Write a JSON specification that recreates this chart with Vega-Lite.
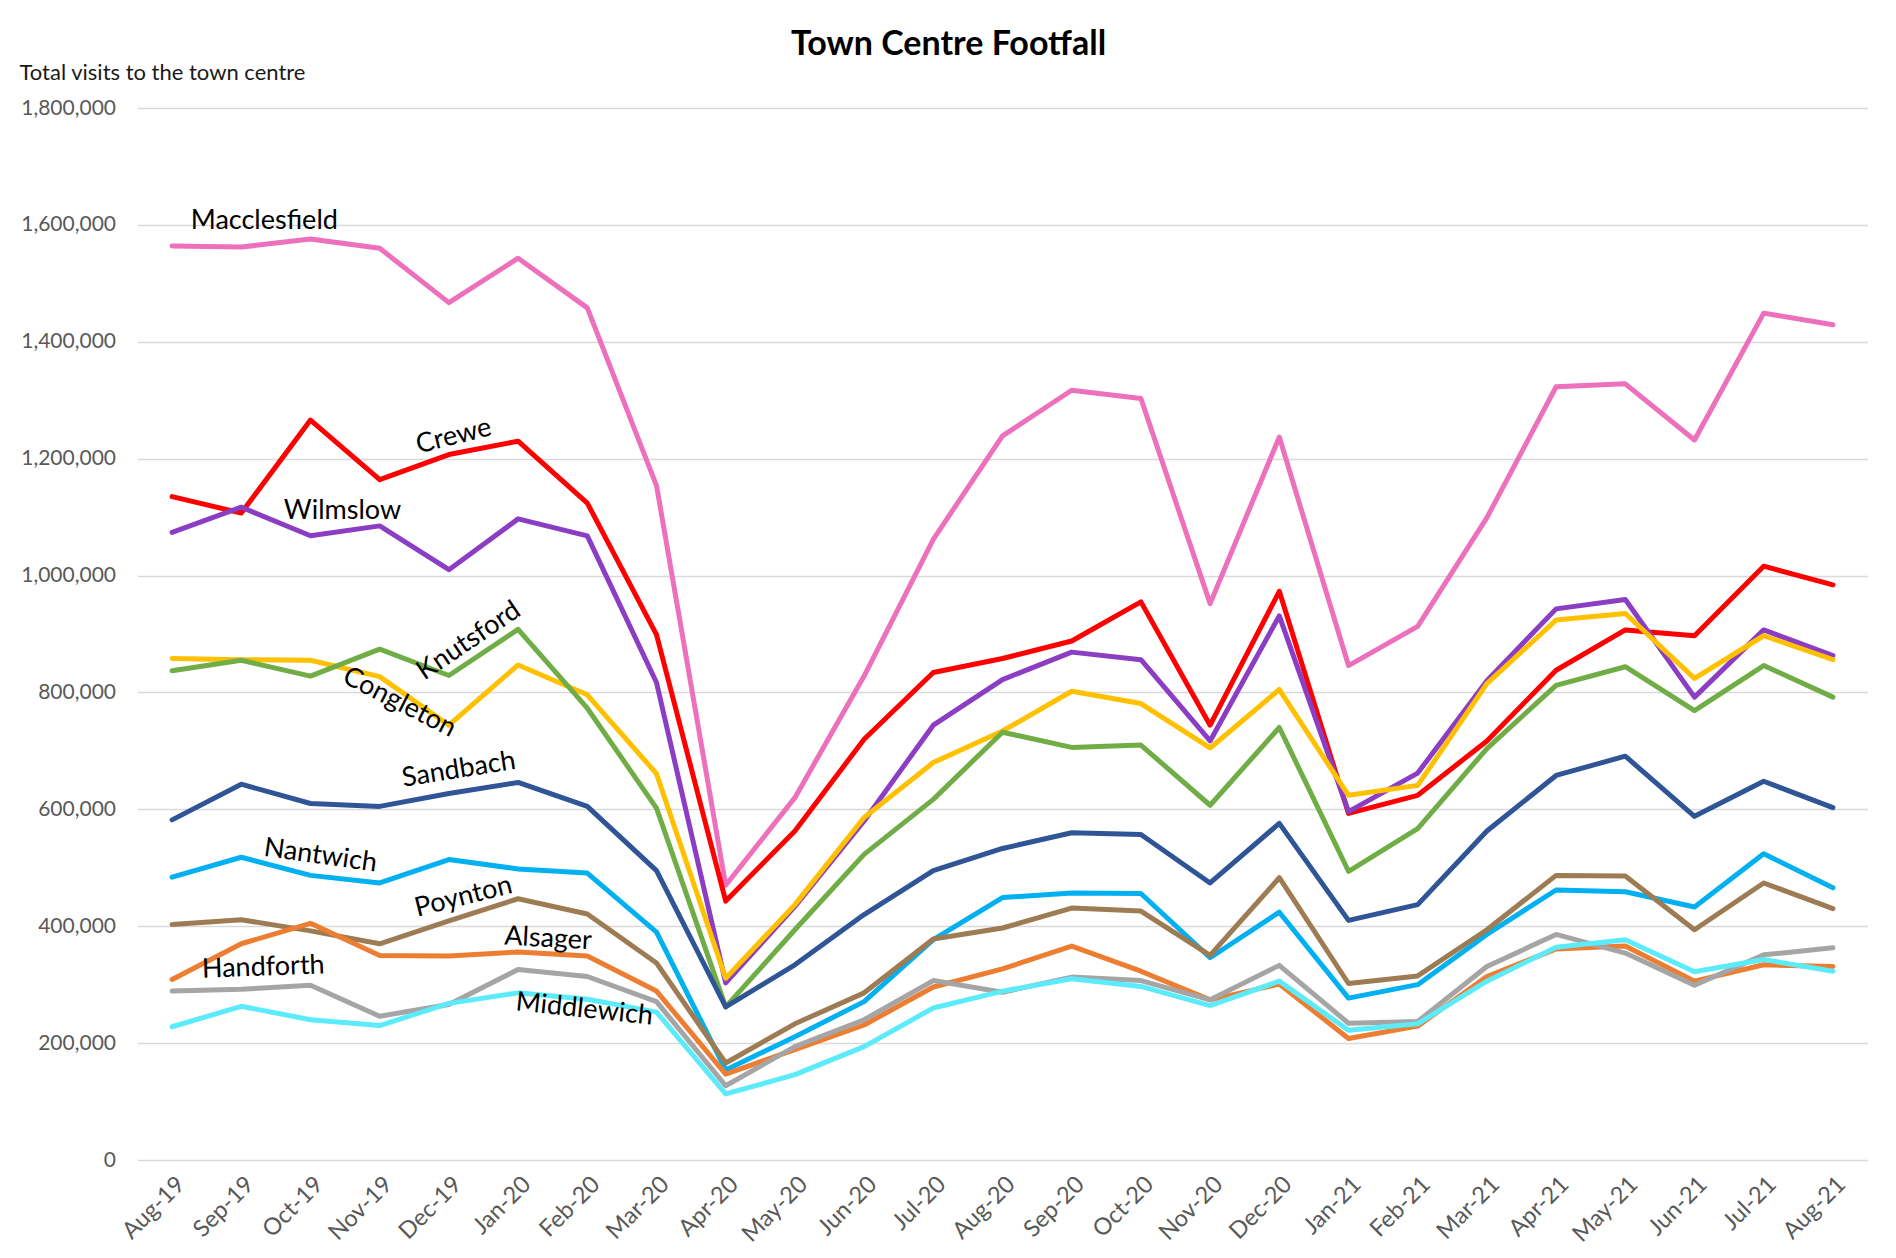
{
  "$schema": "https://vega.github.io/schema/vega-lite/v6.json",
  "width": 1730,
  "height": 1052,
  "autosize": {"type": "none"},
  "padding": {"left": 137.5, "top": 108, "right": 28.5, "bottom": 98},
  "background": "white",
  "config": {"font": "Lato", "view": {"stroke": null}},
  "title": {"text": "Town Centre Footfall", "font": "Lato", "fontSize": 34, "fontWeight": "bold", "color": "#000000", "anchor": "middle", "dx": -54, "offset": 4, "dy": 5},
  "datasets": {
    "footfall": [
      {"month":"Aug-19","town":"Macclesfield","visits":1564000},{"month":"Sep-19","town":"Macclesfield","visits":1562000},{"month":"Oct-19","town":"Macclesfield","visits":1576000},{"month":"Nov-19","town":"Macclesfield","visits":1560000},{"month":"Dec-19","town":"Macclesfield","visits":1467000},{"month":"Jan-20","town":"Macclesfield","visits":1543000},{"month":"Feb-20","town":"Macclesfield","visits":1458000},{"month":"Mar-20","town":"Macclesfield","visits":1154000},{"month":"Apr-20","town":"Macclesfield","visits":470000},{"month":"May-20","town":"Macclesfield","visits":620000},{"month":"Jun-20","town":"Macclesfield","visits":828000},{"month":"Jul-20","town":"Macclesfield","visits":1062000},{"month":"Aug-20","town":"Macclesfield","visits":1239000},{"month":"Sep-20","town":"Macclesfield","visits":1317000},{"month":"Oct-20","town":"Macclesfield","visits":1303000},{"month":"Nov-20","town":"Macclesfield","visits":952000},{"month":"Dec-20","town":"Macclesfield","visits":1237000},{"month":"Jan-21","town":"Macclesfield","visits":846000},{"month":"Feb-21","town":"Macclesfield","visits":913000},{"month":"Mar-21","town":"Macclesfield","visits":1099000},{"month":"Apr-21","town":"Macclesfield","visits":1323000},{"month":"May-21","town":"Macclesfield","visits":1328000},{"month":"Jun-21","town":"Macclesfield","visits":1232000},{"month":"Jul-21","town":"Macclesfield","visits":1449000},{"month":"Aug-21","town":"Macclesfield","visits":1429000},
      {"month":"Aug-19","town":"Crewe","visits":1135000},{"month":"Sep-19","town":"Crewe","visits":1107000},{"month":"Oct-19","town":"Crewe","visits":1266000},{"month":"Nov-19","town":"Crewe","visits":1164000},{"month":"Dec-19","town":"Crewe","visits":1207000},{"month":"Jan-20","town":"Crewe","visits":1230000},{"month":"Feb-20","town":"Crewe","visits":1124000},{"month":"Mar-20","town":"Crewe","visits":899000},{"month":"Apr-20","town":"Crewe","visits":443000},{"month":"May-20","town":"Crewe","visits":563000},{"month":"Jun-20","town":"Crewe","visits":720000},{"month":"Jul-20","town":"Crewe","visits":834000},{"month":"Aug-20","town":"Crewe","visits":858000},{"month":"Sep-20","town":"Crewe","visits":888000},{"month":"Oct-20","town":"Crewe","visits":955000},{"month":"Nov-20","town":"Crewe","visits":744000},{"month":"Dec-20","town":"Crewe","visits":973000},{"month":"Jan-21","town":"Crewe","visits":593000},{"month":"Feb-21","town":"Crewe","visits":624000},{"month":"Mar-21","town":"Crewe","visits":717000},{"month":"Apr-21","town":"Crewe","visits":838000},{"month":"May-21","town":"Crewe","visits":907000},{"month":"Jun-21","town":"Crewe","visits":897000},{"month":"Jul-21","town":"Crewe","visits":1016000},{"month":"Aug-21","town":"Crewe","visits":984000},
      {"month":"Aug-19","town":"Wilmslow","visits":1074000},{"month":"Sep-19","town":"Wilmslow","visits":1117000},{"month":"Oct-19","town":"Wilmslow","visits":1068000},{"month":"Nov-19","town":"Wilmslow","visits":1085000},{"month":"Dec-19","town":"Wilmslow","visits":1010000},{"month":"Jan-20","town":"Wilmslow","visits":1097000},{"month":"Feb-20","town":"Wilmslow","visits":1068000},{"month":"Mar-20","town":"Wilmslow","visits":817000},{"month":"Apr-20","town":"Wilmslow","visits":303000},{"month":"May-20","town":"Wilmslow","visits":434000},{"month":"Jun-20","town":"Wilmslow","visits":580000},{"month":"Jul-20","town":"Wilmslow","visits":744000},{"month":"Aug-20","town":"Wilmslow","visits":822000},{"month":"Sep-20","town":"Wilmslow","visits":869000},{"month":"Oct-20","town":"Wilmslow","visits":856000},{"month":"Nov-20","town":"Wilmslow","visits":717000},{"month":"Dec-20","town":"Wilmslow","visits":931000},{"month":"Jan-21","town":"Wilmslow","visits":596000},{"month":"Feb-21","town":"Wilmslow","visits":662000},{"month":"Mar-21","town":"Wilmslow","visits":820000},{"month":"Apr-21","town":"Wilmslow","visits":943000},{"month":"May-21","town":"Wilmslow","visits":959000},{"month":"Jun-21","town":"Wilmslow","visits":792000},{"month":"Jul-21","town":"Wilmslow","visits":907000},{"month":"Aug-21","town":"Wilmslow","visits":863000},
      {"month":"Aug-19","town":"Congleton","visits":858000},{"month":"Sep-19","town":"Congleton","visits":856000},{"month":"Oct-19","town":"Congleton","visits":855000},{"month":"Nov-19","town":"Congleton","visits":827000},{"month":"Dec-19","town":"Congleton","visits":744000},{"month":"Jan-20","town":"Congleton","visits":847000},{"month":"Feb-20","town":"Congleton","visits":796000},{"month":"Mar-20","town":"Congleton","visits":661000},{"month":"Apr-20","town":"Congleton","visits":311000},{"month":"May-20","town":"Congleton","visits":437000},{"month":"Jun-20","town":"Congleton","visits":586000},{"month":"Jul-20","town":"Congleton","visits":680000},{"month":"Aug-20","town":"Congleton","visits":734000},{"month":"Sep-20","town":"Congleton","visits":802000},{"month":"Oct-20","town":"Congleton","visits":781000},{"month":"Nov-20","town":"Congleton","visits":705000},{"month":"Dec-20","town":"Congleton","visits":805000},{"month":"Jan-21","town":"Congleton","visits":624000},{"month":"Feb-21","town":"Congleton","visits":641000},{"month":"Mar-21","town":"Congleton","visits":815000},{"month":"Apr-21","town":"Congleton","visits":924000},{"month":"May-21","town":"Congleton","visits":935000},{"month":"Jun-21","town":"Congleton","visits":824000},{"month":"Jul-21","town":"Congleton","visits":897000},{"month":"Aug-21","town":"Congleton","visits":856000},
      {"month":"Aug-19","town":"Knutsford","visits":837000},{"month":"Sep-19","town":"Knutsford","visits":855000},{"month":"Oct-19","town":"Knutsford","visits":828000},{"month":"Nov-19","town":"Knutsford","visits":874000},{"month":"Dec-19","town":"Knutsford","visits":829000},{"month":"Jan-20","town":"Knutsford","visits":908000},{"month":"Feb-20","town":"Knutsford","visits":773000},{"month":"Mar-20","town":"Knutsford","visits":602000},{"month":"Apr-20","town":"Knutsford","visits":262000},{"month":"May-20","town":"Knutsford","visits":394000},{"month":"Jun-20","town":"Knutsford","visits":523000},{"month":"Jul-20","town":"Knutsford","visits":617000},{"month":"Aug-20","town":"Knutsford","visits":732000},{"month":"Sep-20","town":"Knutsford","visits":706000},{"month":"Oct-20","town":"Knutsford","visits":710000},{"month":"Nov-20","town":"Knutsford","visits":607000},{"month":"Dec-20","town":"Knutsford","visits":740000},{"month":"Jan-21","town":"Knutsford","visits":494000},{"month":"Feb-21","town":"Knutsford","visits":567000},{"month":"Mar-21","town":"Knutsford","visits":704000},{"month":"Apr-21","town":"Knutsford","visits":812000},{"month":"May-21","town":"Knutsford","visits":844000},{"month":"Jun-21","town":"Knutsford","visits":769000},{"month":"Jul-21","town":"Knutsford","visits":846000},{"month":"Aug-21","town":"Knutsford","visits":792000},
      {"month":"Aug-19","town":"Sandbach","visits":582000},{"month":"Sep-19","town":"Sandbach","visits":643000},{"month":"Oct-19","town":"Sandbach","visits":610000},{"month":"Nov-19","town":"Sandbach","visits":605000},{"month":"Dec-19","town":"Sandbach","visits":627000},{"month":"Jan-20","town":"Sandbach","visits":646000},{"month":"Feb-20","town":"Sandbach","visits":605000},{"month":"Mar-20","town":"Sandbach","visits":495000},{"month":"Apr-20","town":"Sandbach","visits":262000},{"month":"May-20","town":"Sandbach","visits":334000},{"month":"Jun-20","town":"Sandbach","visits":420000},{"month":"Jul-20","town":"Sandbach","visits":495000},{"month":"Aug-20","town":"Sandbach","visits":533000},{"month":"Sep-20","town":"Sandbach","visits":560000},{"month":"Oct-20","town":"Sandbach","visits":557000},{"month":"Nov-20","town":"Sandbach","visits":474000},{"month":"Dec-20","town":"Sandbach","visits":576000},{"month":"Jan-21","town":"Sandbach","visits":410000},{"month":"Feb-21","town":"Sandbach","visits":437000},{"month":"Mar-21","town":"Sandbach","visits":563000},{"month":"Apr-21","town":"Sandbach","visits":658000},{"month":"May-21","town":"Sandbach","visits":691000},{"month":"Jun-21","town":"Sandbach","visits":588000},{"month":"Jul-21","town":"Sandbach","visits":648000},{"month":"Aug-21","town":"Sandbach","visits":603000},
      {"month":"Aug-19","town":"Nantwich","visits":484000},{"month":"Sep-19","town":"Nantwich","visits":518000},{"month":"Oct-19","town":"Nantwich","visits":487000},{"month":"Nov-19","town":"Nantwich","visits":474000},{"month":"Dec-19","town":"Nantwich","visits":514000},{"month":"Jan-20","town":"Nantwich","visits":498000},{"month":"Feb-20","town":"Nantwich","visits":491000},{"month":"Mar-20","town":"Nantwich","visits":390000},{"month":"Apr-20","town":"Nantwich","visits":154000},{"month":"May-20","town":"Nantwich","visits":211000},{"month":"Jun-20","town":"Nantwich","visits":271000},{"month":"Jul-20","town":"Nantwich","visits":377000},{"month":"Aug-20","town":"Nantwich","visits":449000},{"month":"Sep-20","town":"Nantwich","visits":457000},{"month":"Oct-20","town":"Nantwich","visits":456000},{"month":"Nov-20","town":"Nantwich","visits":346000},{"month":"Dec-20","town":"Nantwich","visits":424000},{"month":"Jan-21","town":"Nantwich","visits":277000},{"month":"Feb-21","town":"Nantwich","visits":300000},{"month":"Mar-21","town":"Nantwich","visits":386000},{"month":"Apr-21","town":"Nantwich","visits":462000},{"month":"May-21","town":"Nantwich","visits":459000},{"month":"Jun-21","town":"Nantwich","visits":433000},{"month":"Jul-21","town":"Nantwich","visits":524000},{"month":"Aug-21","town":"Nantwich","visits":466000},
      {"month":"Aug-19","town":"Poynton","visits":403000},{"month":"Sep-19","town":"Poynton","visits":411000},{"month":"Oct-19","town":"Poynton","visits":392000},{"month":"Nov-19","town":"Poynton","visits":370000},{"month":"Dec-19","town":"Poynton","visits":409000},{"month":"Jan-20","town":"Poynton","visits":447000},{"month":"Feb-20","town":"Poynton","visits":421000},{"month":"Mar-20","town":"Poynton","visits":337000},{"month":"Apr-20","town":"Poynton","visits":166000},{"month":"May-20","town":"Poynton","visits":233000},{"month":"Jun-20","town":"Poynton","visits":286000},{"month":"Jul-20","town":"Poynton","visits":378000},{"month":"Aug-20","town":"Poynton","visits":397000},{"month":"Sep-20","town":"Poynton","visits":431000},{"month":"Oct-20","town":"Poynton","visits":426000},{"month":"Nov-20","town":"Poynton","visits":350000},{"month":"Dec-20","town":"Poynton","visits":483000},{"month":"Jan-21","town":"Poynton","visits":302000},{"month":"Feb-21","town":"Poynton","visits":315000},{"month":"Mar-21","town":"Poynton","visits":394000},{"month":"Apr-21","town":"Poynton","visits":487000},{"month":"May-21","town":"Poynton","visits":486000},{"month":"Jun-21","town":"Poynton","visits":394000},{"month":"Jul-21","town":"Poynton","visits":474000},{"month":"Aug-21","town":"Poynton","visits":430000},
      {"month":"Aug-19","town":"Alsager","visits":309000},{"month":"Sep-19","town":"Alsager","visits":370000},{"month":"Oct-19","town":"Alsager","visits":405000},{"month":"Nov-19","town":"Alsager","visits":350000},{"month":"Dec-19","town":"Alsager","visits":349000},{"month":"Jan-20","town":"Alsager","visits":356000},{"month":"Feb-20","town":"Alsager","visits":349000},{"month":"Mar-20","town":"Alsager","visits":289000},{"month":"Apr-20","town":"Alsager","visits":147000},{"month":"May-20","town":"Alsager","visits":189000},{"month":"Jun-20","town":"Alsager","visits":231000},{"month":"Jul-20","town":"Alsager","visits":296000},{"month":"Aug-20","town":"Alsager","visits":327000},{"month":"Sep-20","town":"Alsager","visits":366000},{"month":"Oct-20","town":"Alsager","visits":323000},{"month":"Nov-20","town":"Alsager","visits":274000},{"month":"Dec-20","town":"Alsager","visits":301000},{"month":"Jan-21","town":"Alsager","visits":208000},{"month":"Feb-21","town":"Alsager","visits":229000},{"month":"Mar-21","town":"Alsager","visits":314000},{"month":"Apr-21","town":"Alsager","visits":361000},{"month":"May-21","town":"Alsager","visits":366000},{"month":"Jun-21","town":"Alsager","visits":306000},{"month":"Jul-21","town":"Alsager","visits":334000},{"month":"Aug-21","town":"Alsager","visits":331000},
      {"month":"Aug-19","town":"Handforth","visits":289000},{"month":"Sep-19","town":"Handforth","visits":292000},{"month":"Oct-19","town":"Handforth","visits":299000},{"month":"Nov-19","town":"Handforth","visits":246000},{"month":"Dec-19","town":"Handforth","visits":266000},{"month":"Jan-20","town":"Handforth","visits":326000},{"month":"Feb-20","town":"Handforth","visits":314000},{"month":"Mar-20","town":"Handforth","visits":271000},{"month":"Apr-20","town":"Handforth","visits":127000},{"month":"May-20","town":"Handforth","visits":194000},{"month":"Jun-20","town":"Handforth","visits":240000},{"month":"Jul-20","town":"Handforth","visits":307000},{"month":"Aug-20","town":"Handforth","visits":287000},{"month":"Sep-20","town":"Handforth","visits":313000},{"month":"Oct-20","town":"Handforth","visits":307000},{"month":"Nov-20","town":"Handforth","visits":274000},{"month":"Dec-20","town":"Handforth","visits":333000},{"month":"Jan-21","town":"Handforth","visits":234000},{"month":"Feb-21","town":"Handforth","visits":237000},{"month":"Mar-21","town":"Handforth","visits":331000},{"month":"Apr-21","town":"Handforth","visits":386000},{"month":"May-21","town":"Handforth","visits":354000},{"month":"Jun-21","town":"Handforth","visits":299000},{"month":"Jul-21","town":"Handforth","visits":351000},{"month":"Aug-21","town":"Handforth","visits":363000},
      {"month":"Aug-19","town":"Middlewich","visits":228000},{"month":"Sep-19","town":"Middlewich","visits":263000},{"month":"Oct-19","town":"Middlewich","visits":240000},{"month":"Nov-19","town":"Middlewich","visits":230000},{"month":"Dec-19","town":"Middlewich","visits":268000},{"month":"Jan-20","town":"Middlewich","visits":286000},{"month":"Feb-20","town":"Middlewich","visits":275000},{"month":"Mar-20","town":"Middlewich","visits":253000},{"month":"Apr-20","town":"Middlewich","visits":113000},{"month":"May-20","town":"Middlewich","visits":146000},{"month":"Jun-20","town":"Middlewich","visits":194000},{"month":"Jul-20","town":"Middlewich","visits":260000},{"month":"Aug-20","town":"Middlewich","visits":289000},{"month":"Sep-20","town":"Middlewich","visits":310000},{"month":"Oct-20","town":"Middlewich","visits":297000},{"month":"Nov-20","town":"Middlewich","visits":264000},{"month":"Dec-20","town":"Middlewich","visits":306000},{"month":"Jan-21","town":"Middlewich","visits":222000},{"month":"Feb-21","town":"Middlewich","visits":233000},{"month":"Mar-21","town":"Middlewich","visits":306000},{"month":"Apr-21","town":"Middlewich","visits":364000},{"month":"May-21","town":"Middlewich","visits":377000},{"month":"Jun-21","town":"Middlewich","visits":322000},{"month":"Jul-21","town":"Middlewich","visits":343000},{"month":"Aug-21","town":"Middlewich","visits":323000}
    ],
    "labels": [
      {"town":"Macclesfield","month":"Sep-19","visits":1607000},
      {"town":"Crewe","month":"Dec-19","visits":1236000},
      {"town":"Wilmslow","month":"Oct-19","visits":1110000},
      {"town":"Knutsford","month":"Dec-19","visits":865000},
      {"town":"Congleton","month":"Nov-19","visits":800000},
      {"town":"Sandbach","month":"Dec-19","visits":665000},
      {"town":"Nantwich","month":"Oct-19","visits":523000},
      {"town":"Poynton","month":"Dec-19","visits":444000},
      {"town":"Alsager","month":"Jan-20","visits":381000},
      {"town":"Middlewich","month":"Feb-20","visits":257000},
      {"town":"Handforth","month":"Sep-19","visits":328000}
    ]
  },
  "encoding": {
    "x": {
      "field": "month", "type": "ordinal",
      "scale": {"type": "point", "padding": 0.5, "domain": ["Aug-19","Sep-19","Oct-19","Nov-19","Dec-19","Jan-20","Feb-20","Mar-20","Apr-20","May-20","Jun-20","Jul-20","Aug-20","Sep-20","Oct-20","Nov-20","Dec-20","Jan-21","Feb-21","Mar-21","Apr-21","May-21","Jun-21","Jul-21","Aug-21"]},
      "axis": {"title": null, "labelAngle": -45, "labelFontSize": 23.5, "labelColor": "#595959", "labelFont": "Lato", "ticks": false, "domain": false, "grid": false, "labelPadding": 12}
    },
    "y": {
      "field": "visits", "type": "quantitative",
      "scale": {"domain": [0, 1800000], "nice": false, "zero": true},
      "axis": {
        "values": [0,200000,400000,600000,800000,1000000,1200000,1400000,1600000,1800000],
        "format": ",.0f", "labelFontSize": 21, "labelColor": "#595959", "labelFont": "Lato", "labelPadding": 22,
        "ticks": false, "domain": false, "grid": true, "gridColor": "#D9D9D9", "gridWidth": 1.6,
        "title": "Total visits to the town centre", "titleAngle": 0, "titleAlign": "left", "titleBaseline": "alphabetic",
        "titleX": -118.5, "titleY": -29, "titleFontSize": 22, "titleFontWeight": "normal", "titleColor": "#1a1a1a", "titleFont": "Lato"
      }
    }
  },
  "layer": [
    {
      "data": {"name": "footfall"},
      "mark": {"type": "line", "strokeWidth": 5, "strokeJoin": "round", "strokeCap": "round"},
      "encoding": {
        "color": {"field": "town", "type": "nominal", "legend": null,
          "scale": {"domain": ["Alsager","Congleton","Crewe","Handforth","Knutsford","Macclesfield","Middlewich","Nantwich","Poynton","Sandbach","Wilmslow"],
                    "range": ["#ED7D31","#FFC000","#FF0000","#A5A5A5","#70AD47","#EC70BC","#5BEBFB","#00B0F0","#9E7C53","#2F5597","#8B3EC4"]}}
      }
    },
    {"data": {"name": "labels"}, "transform": [{"filter": {"field": "town", "equal": "Macclesfield"}}], "mark": {"type": "text", "fontSize": 27, "font": "Lato", "color": "#000000", "align": "center", "baseline": "middle", "angle": 0, "dx": 23}, "encoding": {"text": {"field": "town"}}},
    {"data": {"name": "labels"}, "transform": [{"filter": {"field": "town", "equal": "Crewe"}}], "mark": {"type": "text", "fontSize": 27, "font": "Lato", "color": "#000000", "align": "center", "baseline": "middle", "angle": -14, "dx": 5}, "encoding": {"text": {"field": "town"}}},
    {"data": {"name": "labels"}, "transform": [{"filter": {"field": "town", "equal": "Wilmslow"}}], "mark": {"type": "text", "fontSize": 27, "font": "Lato", "color": "#000000", "align": "center", "baseline": "middle", "angle": 0, "dx": 32}, "encoding": {"text": {"field": "town"}}},
    {"data": {"name": "labels"}, "transform": [{"filter": {"field": "town", "equal": "Knutsford"}}], "mark": {"type": "text", "fontSize": 27, "font": "Lato", "color": "#000000", "align": "center", "baseline": "middle", "angle": -34, "dx": 24}, "encoding": {"text": {"field": "town"}}},
    {"data": {"name": "labels"}, "transform": [{"filter": {"field": "town", "equal": "Congleton"}}], "mark": {"type": "text", "fontSize": 27, "font": "Lato", "color": "#000000", "align": "center", "baseline": "middle", "angle": 27, "dx": 22}, "encoding": {"text": {"field": "town"}}},
    {"data": {"name": "labels"}, "transform": [{"filter": {"field": "town", "equal": "Sandbach"}}], "mark": {"type": "text", "fontSize": 27, "font": "Lato", "color": "#000000", "align": "center", "baseline": "middle", "angle": -9, "dx": 10}, "encoding": {"text": {"field": "town"}}},
    {"data": {"name": "labels"}, "transform": [{"filter": {"field": "town", "equal": "Nantwich"}}], "mark": {"type": "text", "fontSize": 27, "font": "Lato", "color": "#000000", "align": "center", "baseline": "middle", "angle": 8, "dx": 10}, "encoding": {"text": {"field": "town"}}},
    {"data": {"name": "labels"}, "transform": [{"filter": {"field": "town", "equal": "Poynton"}}], "mark": {"type": "text", "fontSize": 27, "font": "Lato", "color": "#000000", "align": "center", "baseline": "middle", "angle": -14, "dx": 15}, "encoding": {"text": {"field": "town"}}},
    {"data": {"name": "labels"}, "transform": [{"filter": {"field": "town", "equal": "Alsager"}}], "mark": {"type": "text", "fontSize": 27, "font": "Lato", "color": "#000000", "align": "center", "baseline": "middle", "angle": 3, "dx": 30}, "encoding": {"text": {"field": "town"}}},
    {"data": {"name": "labels"}, "transform": [{"filter": {"field": "town", "equal": "Middlewich"}}], "mark": {"type": "text", "fontSize": 27, "font": "Lato", "color": "#000000", "align": "center", "baseline": "middle", "angle": 6, "dx": -3}, "encoding": {"text": {"field": "town"}}},
    {"data": {"name": "labels"}, "transform": [{"filter": {"field": "town", "equal": "Handforth"}}], "mark": {"type": "text", "fontSize": 27, "font": "Lato", "color": "#000000", "align": "center", "baseline": "middle", "angle": -2, "dx": 22}, "encoding": {"text": {"field": "town"}}}
  ]
}
